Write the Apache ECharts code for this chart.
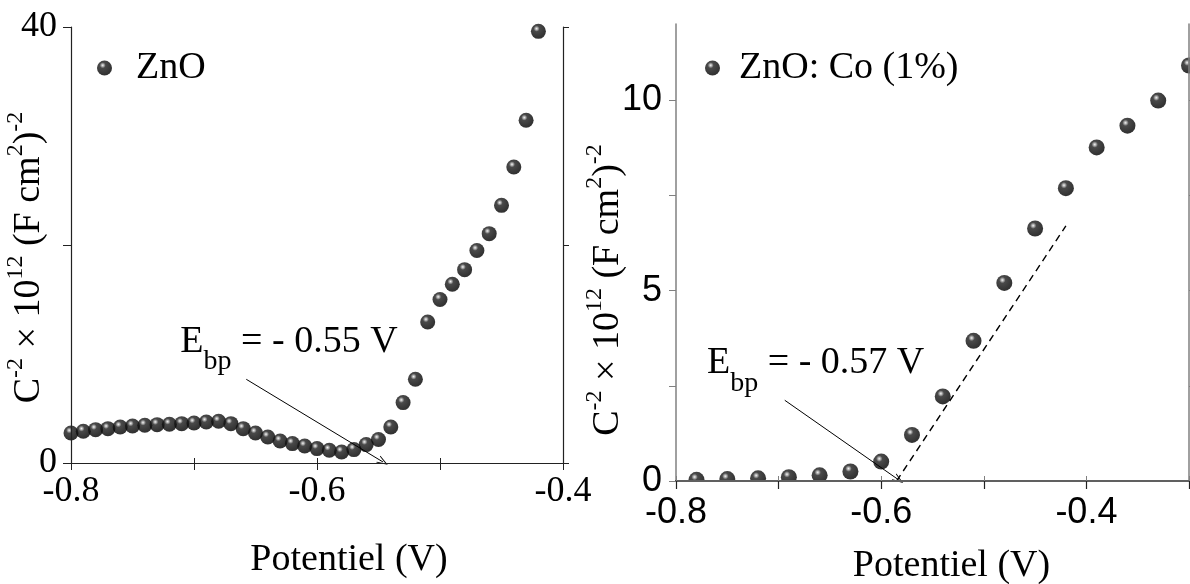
<!DOCTYPE html>
<html><head><meta charset="utf-8">
<script src="https://cdn.jsdelivr.net/npm/echarts@6/dist/echarts.min.js"></script>
<style>html,body{margin:0;padding:0;background:#fff}#c{width:1190px;height:584px}</style>
</head><body><div id="c"></div>
<script>
// ---- Left panel (ZnO) ----
const leftName = 'ZnO';
const leftPotential = [-0.80,-0.79,-0.78,-0.77,-0.76,-0.75,-0.74,-0.73,-0.72,-0.71,-0.70,-0.69,-0.68,-0.67,-0.66,-0.65,-0.64,-0.63,-0.62,-0.61,-0.60,-0.59,-0.58,-0.57,-0.56,-0.55,-0.54,-0.53,-0.52,-0.51,-0.50,-0.49,-0.48,-0.47,-0.46,-0.45,-0.44,-0.43,-0.42];
const leftC2 = [2.75,2.91,3.06,3.15,3.30,3.39,3.46,3.52,3.55,3.61,3.67,3.76,3.83,3.61,3.15,2.75,2.39,2.02,1.78,1.56,1.32,1.17,1.01,1.23,1.69,2.15,3.30,5.54,7.68,12.94,15.0,16.4,17.74,19.5,21.04,23.64,27.15,31.44,39.6];
const leftXTicks = [-0.8,-0.7,-0.6,-0.5,-0.4];
const leftXLabels = [-0.8,-0.6,-0.4];
const leftYTicks = [0,20,40];
const leftYLabels = [0,40];
const leftArrow = [[-0.6575,7.68],[-0.5463,0.09]];
const leftNote = [-0.7111,10.42];
const leftNoteText = ['E','bp',' = - 0.55 V'];

// ---- Right panel (ZnO: Co 1%) ----
const rightName = 'ZnO: Co (1%)';
const rightPotential = [-0.78,-0.75,-0.72,-0.69,-0.66,-0.63,-0.60,-0.57,-0.54,-0.51,-0.48,-0.45,-0.42,-0.39,-0.36,-0.33,-0.30];
const rightC2 = [0.03,0.05,0.07,0.10,0.15,0.25,0.51,1.21,2.22,3.68,5.20,6.63,7.69,8.76,9.33,9.99,10.91];
const rightFitX = [-0.585,-0.42];
const rightFitY = [0,6.7];
const rightXTicks = [-0.8,-0.7,-0.6,-0.5,-0.4,-0.3];
const rightXLabels = [-0.8,-0.6,-0.4];
const rightYTicks = [0,2.5,5,7.5,10];
const rightYLabels = [0,5,10];
const rightArrow = [[-0.694,2.12],[-0.583,0.03]];
const rightNote = [-0.7698,2.89];
const rightNoteText = ['E','bp',' = - 0.57 V'];

const xTitle = 'Potentiel (V)';
const yTitle = '{m|C}{s|-2}{m| \u00d7 10}{s|12}{m| (F cm}{s|2}{m|)}{s|-2}';

const SERIF = 'Liberation Serif', SANS = 'Liberation Sans';
const ball = {type:'radial', x:0.38, y:0.32, r:0.62, colorStops:[
  {offset:0,color:'#f0f0f0'},{offset:0.13,color:'#a0a0a0'},{offset:0.32,color:'#1c1c1c'},{offset:1,color:'#000'}]};
const arrowSym = 'path://M5,0 L10,10 L8.8,10 L5,2.4 L1.2,10 L0,10 Z';

const yRich = {
  m:{fontFamily:SERIF,fontSize:38,lineHeight:50,color:'#000'},
  s:{fontFamily:SERIF,fontSize:24,lineHeight:24,verticalAlign:'top',color:'#000'}
};
const noteRich = {
  m:{fontFamily:SERIF,fontSize:38,lineHeight:38,verticalAlign:'top',color:'#000',opacity:1},
  s:{fontFamily:SERIF,fontSize:28,lineHeight:53,verticalAlign:'bottom',color:'#000',opacity:1}
};
function noteFmt(t){ return '{m|'+t[0]+'}{s|'+t[1]+'}{m|'+t[2]+'}'; }
function zip(a,b){ return a.map((v,i)=>[v,b[i]]); }

const leftLine = {lineStyle:{color:'#222',width:1.2}};
const grayLine = {lineStyle:{color:'#808080',width:1.5}};
const noteLabel = (t) => ({show:true, position:'right', distance:0, color:'#000', opacity:1,
  textBorderWidth:0, formatter:noteFmt(t), rich:noteRich});

const chart = echarts.init(document.getElementById('c'), null, {renderer:'canvas'});
chart.setOption({
  animation:false,
  backgroundColor:'#fff',
  grid:[
    {left:71, top:27, width:492, height:436, containLabel:false, outerBoundsMode:'none'},
    {left:676, top:24, width:513, height:457, containLabel:false, outerBoundsMode:'none'}
  ],
  legend:[
    {data:[leftName], left:97, top:49, padding:0, icon:'circle', itemWidth:15, itemHeight:15, selectedMode:false,
     textStyle:{fontFamily:SERIF,fontSize:38,color:'#000',padding:[0,0,20,19]}},
    {data:[rightName], left:705, top:49, padding:0, icon:'circle', itemWidth:15, itemHeight:15, selectedMode:false,
     textStyle:{fontFamily:SERIF,fontSize:38,color:'#000',padding:[0,0,20,14]}}
  ],
  xAxis:[
    {gridIndex:0, type:'value', min:-0.8, max:-0.4, position:'bottom', z:10,
     axisLine:leftLine, splitLine:{show:false},
     axisTick:{customValues:leftXTicks, length:7, inside:false},
     axisLabel:{customValues:leftXLabels, fontFamily:SERIF, fontSize:36, color:'#000', margin:11},
     name:xTitle, nameLocation:'middle', nameGap:78, nameMoveOverlap:false,
     nameTextStyle:{fontFamily:SERIF,fontSize:38,color:'#000',padding:[0,0,0,64]}},
    {gridIndex:0, type:'value', min:-0.8, max:-0.4, position:'top', z:10,
     axisLine:leftLine, splitLine:{show:false},
     axisTick:{customValues:leftXTicks, length:5, inside:false}, axisLabel:{show:false}},
    {gridIndex:1, type:'value', min:-0.8, max:-0.3, position:'bottom', z:10,
     axisLine:{lineStyle:{color:'#000',width:2}}, splitLine:{show:false},
     axisTick:{customValues:rightXTicks, length:8, inside:false, lineStyle:{color:'#222',width:1.2}},
     axisLabel:{customValues:rightXLabels, fontFamily:SANS, fontSize:36, color:'#000', margin:14},
     name:xTitle, nameLocation:'middle', nameGap:66, nameMoveOverlap:false,
     nameTextStyle:{fontFamily:SERIF,fontSize:38,color:'#000',padding:[0,0,0,38]}},
    {gridIndex:1, type:'value', min:-0.8, max:-0.3, position:'top', z:10,
     axisLine:grayLine, splitLine:{show:false},
     axisTick:{customValues:rightXTicks, length:5, inside:false}, axisLabel:{show:false}}
  ],
  yAxis:[
    {gridIndex:0, type:'value', min:0, max:40, position:'left', z:10,
     axisLine:{show:true, ...leftLine}, splitLine:{show:false},
     axisTick:{show:true, customValues:leftYTicks, length:8, inside:false},
     axisLabel:{customValues:leftYLabels, fontFamily:SERIF, fontSize:36, color:'#000', margin:14},
     name:yTitle, nameLocation:'middle', nameRotate:90, nameGap:17, nameMoveOverlap:false,
     nameTextStyle:{rich:yRich, padding:[0,25,0,0]}},
    {gridIndex:0, type:'value', min:0, max:40, position:'right', z:10,
     axisLine:{show:true, ...leftLine}, splitLine:{show:false},
     axisTick:{show:true, customValues:leftYTicks, length:6, inside:false}, axisLabel:{show:false}},
    {gridIndex:1, type:'value', min:0, max:12, position:'left', z:10,
     axisLine:{show:true, ...grayLine}, splitLine:{show:false},
     axisTick:{show:true, customValues:rightYTicks, length:7, inside:false},
     axisLabel:{customValues:rightYLabels, fontFamily:SANS, fontSize:36, color:'#000', margin:14},
     name:yTitle, nameLocation:'middle', nameRotate:90, nameGap:43, nameMoveOverlap:false,
     nameTextStyle:{rich:yRich, padding:[0,75,0,0]}},
    {gridIndex:1, type:'value', min:0, max:12, position:'right', z:10,
     axisLine:{show:true, ...grayLine}, splitLine:{show:false},
     axisTick:{show:true, customValues:rightYTicks, length:6, inside:false}, axisLabel:{show:false}}
  ],
  graphic:[
    {type:'rect', z:5, silent:true, shape:{x:677, y:482, width:513, height:10}, style:{fill:'#fff'}}
  ],
  series:[
    {name:leftName, type:'scatter', xAxisIndex:0, yAxisIndex:0, symbolSize:15,
     itemStyle:{color:ball}, data:zip(leftPotential,leftC2),
     markLine:{silent:true, symbol:['none',arrowSym], symbolSize:[8,11],
       lineStyle:{color:'#000',width:1,type:'solid'}, label:{show:false},
       data:[[{coord:leftArrow[0]},{coord:leftArrow[1]}]]}},
    {type:'scatter', xAxisIndex:0, yAxisIndex:0, symbolSize:0, silent:true, z:6,
     itemStyle:{color:'#000'}, data:[leftNote], label:noteLabel(leftNoteText)},
    {name:rightName, type:'scatter', xAxisIndex:2, yAxisIndex:2, symbolSize:16,
     itemStyle:{color:ball}, data:zip(rightPotential,rightC2),
     markLine:{silent:true, symbol:['none',arrowSym], symbolSize:[8,11],
       lineStyle:{color:'#000',width:1,type:'solid'}, label:{show:false},
       data:[[{coord:rightArrow[0]},{coord:rightArrow[1]}]]}},
    {type:'line', xAxisIndex:2, yAxisIndex:2, showSymbol:false, symbol:'none', silent:true, z:1,
     lineStyle:{color:'#000',width:1.4,type:[7,5]}, data:zip(rightFitX,rightFitY)},
    {type:'scatter', xAxisIndex:2, yAxisIndex:2, symbolSize:0, silent:true, z:6,
     itemStyle:{color:'#000'}, data:[rightNote], label:noteLabel(rightNoteText)}
  ]
});
</script></body></html>
